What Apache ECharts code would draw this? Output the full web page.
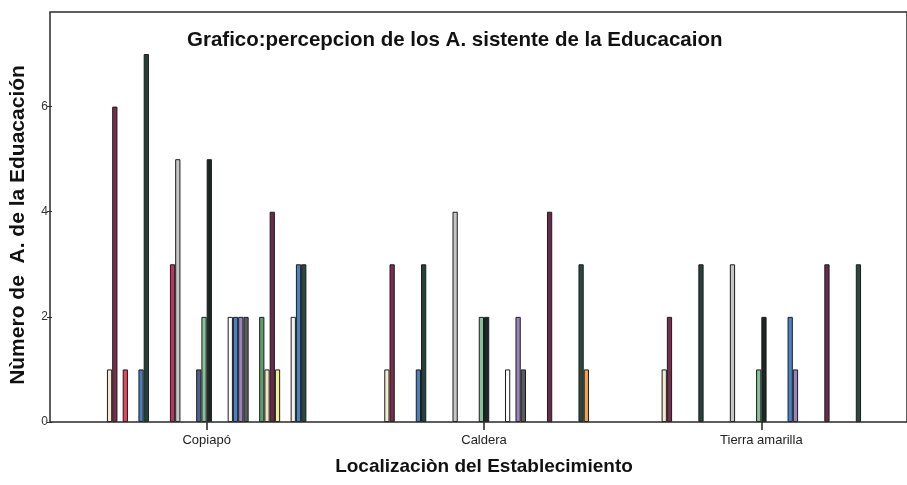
<!DOCTYPE html>
<html>
<head>
<meta charset="utf-8">
<script src="https://cdn.jsdelivr.net/npm/echarts@6/dist/echarts.min.js"></script>
<style>
html,body{margin:0;padding:0;background:#fff;}
#chart{width:907px;height:485px;}
</style>
</head>
<body>
<div id="chart"></div>
<script>
// Categories (x axis)
var categories = ['Copiapó', 'Caldera', 'Tierra amarilla'];

// 40 clustered series (one slot each); 0 = no bar
var copiapo        = [0,1,6,0,1,0,0,1,7,0,0,0,0,3,5,0,0,0,1,2,5,0,0,0,2,2,2,2,0,0,2,1,4,1,0,0,2,3,3,0];
var caldera        = [0,1,3,0,0,0,0,1,3,0,0,0,0,0,4,0,0,0,0,2,2,0,0,0,1,0,2,1,0,0,0,0,4,0,0,0,0,0,3,1];
var tierraAmarilla = [0,1,2,0,0,0,0,0,3,0,0,0,0,0,3,0,0,0,0,1,2,0,0,0,0,2,1,0,0,0,0,0,3,0,0,0,0,0,3,0];

// Series colours (slot order)
var seriesColors = [
  '#dddddd','#f6ead0','#7a2c4c','#c9a0b0','#e8455c','#9aa8c8','#c8d8a0','#4d7cbc','#24423a','#a09060',
  '#8090b0','#d0b0c0','#b0a090','#b83462','#c6c6c6','#a0c0a0','#d0d0f0','#b0b080','#50608c','#86c29a',
  '#1d2725','#c0a0a0','#a0b0c0','#b0c0a0','#ffffff','#4a82c8','#9a82ba','#555e5a','#c0c0a0','#a0a0c0',
  '#5e9c6c','#f4e4c0','#6a2a4a','#f5ee92','#b0a0d0','#a0d0c0','#f3f3ea','#4a82c8','#2a4840','#f2a452'
];

var series = seriesColors.map(function (c, i) {
  var vals = [copiapo[i], caldera[i], tierraAmarilla[i]].map(function (v) { return v === 0 ? null : v; });
  return {
    type: 'bar',
    name: 'S' + (i + 1),
    xAxisIndex: 0,
    yAxisIndex: 0,
    barGap: '0%',
    barCategoryGap: '24.3%',
    data: vals,
    itemStyle: { color: c, borderColor: '#1c1c1c', borderWidth: 1 },
    silent: true
  };
});

var chart = echarts.init(document.getElementById('chart'), null, { renderer: 'canvas' });
chart.setOption({
  animation: false,
  backgroundColor: '#ffffff',
  textStyle: { fontFamily: 'Liberation Sans, Arial, sans-serif' },
  title: {
    text: 'Grafico:percepcion de los A. sistente de la Educacaion',
    left: 182,
    top: 25,
    textStyle: { fontSize: 20.5, fontWeight: 'bold', color: '#111', fontFamily: 'Liberation Sans, Arial, sans-serif' }
  },
  grid: [
    { left: 66, right: 7, top: 12, bottom: 63, containLabel: false },
    { left: 50, right: -5, top: 12, bottom: 63, show: true, borderColor: '#2a2a2a', borderWidth: 1.5, backgroundColor: 'transparent', z: 3 }
  ],
  xAxis: [
    {
      type: 'category',
      gridIndex: 0,
      data: categories,
      axisLine: { show: false },
      axisTick: { show: true, alignWithLabel: true, length: 8, lineStyle: { color: '#222', width: 1.5 } },
      axisLabel: { fontSize: 13, color: '#222', margin: 12 },
      name: 'Localizaciòn del Establecimiento',
      nameLocation: 'middle',
      nameGap: 35,
      nameTextStyle: { fontSize: 19, fontWeight: 'bold', color: '#111' }
    },
    { type: 'value', gridIndex: 1, show: false }
  ],
  yAxis: [
    {
      type: 'value',
      gridIndex: 0,
      min: 0,
      max: 7.8,
      interval: 2,
      offset: 16,
      axisLine: { show: false },
      axisTick: { show: true, length: 5, lineStyle: { color: '#333' } },
      axisLabel: { fontSize: 12, color: '#333', margin: 4, showMaxLabel: false },
      splitLine: { show: false },
      name: 'Nùmero de  A. de la Eduacación',
      nameLocation: 'middle',
      nameGap: 23,
      nameTextStyle: { fontSize: 21, fontWeight: 'bold', color: '#111', padding: [0, 16, 0, 0] }
    },
    { type: 'value', gridIndex: 1, show: false }
  ],
  series: series
});
</script>
</body>
</html>
